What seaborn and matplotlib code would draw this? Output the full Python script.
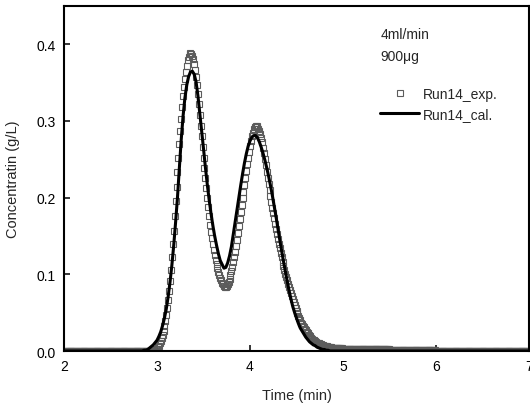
import numpy as np
import pandas as pd
import matplotlib
matplotlib.use("Agg")
import matplotlib.pyplot as plt
import seaborn as sns

# ---------------- data ----------------
# experimental run: sampled every 0.01 min from 2.00 to 7.00
exp_time = np.round(np.linspace(2.0, 7.0, 501), 2)
exp_lead = [0.0] * 90                      # 2.00 - 2.89
exp_core = [                               # 2.90 - 4.89
    0.000, 0.000, 0.000, 0.000, 0.000, 0.000, 0.000, 0.000, 0.001, 0.002,
    0.003, 0.005, 0.007, 0.010, 0.013, 0.017, 0.021, 0.026, 0.032, 0.039,
    0.047, 0.056, 0.066, 0.078, 0.091, 0.106, 0.122, 0.139, 0.157, 0.176,
    0.195, 0.214, 0.233, 0.252, 0.270, 0.287, 0.303, 0.318, 0.332, 0.344,
    0.355, 0.364, 0.372, 0.379, 0.384, 0.387, 0.389, 0.388, 0.385, 0.381,
    0.375, 0.367, 0.358, 0.347, 0.335, 0.322, 0.308, 0.294, 0.280, 0.266,
    0.252, 0.239, 0.226, 0.213, 0.200, 0.188, 0.176, 0.165, 0.155, 0.147,
    0.139, 0.132, 0.125, 0.119, 0.113, 0.108, 0.103, 0.099, 0.095, 0.092,
    0.089, 0.087, 0.085, 0.084, 0.084, 0.085, 0.087, 0.090, 0.094, 0.099,
    0.104, 0.110, 0.116, 0.122, 0.129, 0.137, 0.145, 0.154, 0.163, 0.172,
    0.181, 0.190, 0.199, 0.208, 0.217, 0.226, 0.235, 0.244, 0.252, 0.260,
    0.267, 0.274, 0.280, 0.285, 0.289, 0.292, 0.293, 0.293, 0.292, 0.290,
    0.287, 0.283, 0.278, 0.272, 0.265, 0.258, 0.250, 0.242, 0.234, 0.226,
    0.218, 0.210, 0.202, 0.194, 0.187, 0.180, 0.173, 0.166, 0.159, 0.152,
    0.146, 0.140, 0.134, 0.128, 0.122, 0.116, 0.111, 0.106, 0.101, 0.096,
    0.092, 0.088, 0.084, 0.080, 0.076, 0.072, 0.068, 0.064, 0.060, 0.056,
    0.052, 0.049, 0.046, 0.043, 0.040, 0.037, 0.035, 0.033, 0.031, 0.029,
    0.027, 0.025, 0.023, 0.021, 0.020, 0.018, 0.017, 0.016, 0.015, 0.014,
    0.013, 0.012, 0.011, 0.011, 0.010, 0.009, 0.009, 0.008, 0.008, 0.007,
    0.007, 0.006, 0.006, 0.006, 0.005, 0.005, 0.005, 0.005, 0.004, 0.004,
]
exp_tail = [0.004] * 10 + [0.003] * 20 + [0.002] * 30 + [0.001] * 50 + [0.0] * 101
exp_conc = exp_lead + exp_core + exp_tail

# calculated curve
cal_time = [
    2.00, 2.80, 2.82, 2.84, 2.86, 2.88, 2.90, 2.92, 2.94, 2.96, 2.98,
    3.00, 3.02, 3.04, 3.06, 3.08, 3.10, 3.12, 3.14, 3.16, 3.18,
    3.20, 3.22, 3.24, 3.26, 3.28, 3.30, 3.32, 3.34, 3.36, 3.38,
    3.40, 3.42, 3.44, 3.46, 3.48, 3.50, 3.52, 3.54, 3.56, 3.58,
    3.60, 3.62, 3.64, 3.66, 3.68, 3.70, 3.72, 3.74, 3.76, 3.78,
    3.80, 3.82, 3.84, 3.86, 3.88, 3.90, 3.92, 3.94, 3.96, 3.98,
    4.00, 4.02, 4.04, 4.06, 4.08, 4.10, 4.12, 4.14, 4.16, 4.18,
    4.20, 4.22, 4.24, 4.26, 4.28, 4.30, 4.32, 4.34, 4.36, 4.38,
    4.40, 4.42, 4.44, 4.46, 4.48, 4.50, 4.52, 4.54, 4.56, 4.58,
    4.60, 4.62, 4.64, 4.66, 4.68, 4.70, 4.72, 4.74, 4.76, 4.78,
    4.80, 4.82, 4.84, 4.86, 4.88, 4.90, 7.00,
]
cal_conc = [
    0.000, 0.000, 0.000, 0.000, 0.001, 0.001, 0.002, 0.004, 0.006, 0.008, 0.011,
    0.014, 0.019, 0.025, 0.033, 0.043, 0.055, 0.071, 0.090, 0.112, 0.138,
    0.168, 0.200, 0.238, 0.275, 0.306, 0.330, 0.347, 0.358, 0.364, 0.365,
    0.361, 0.351, 0.333, 0.310, 0.287, 0.264, 0.240, 0.218, 0.198, 0.180,
    0.164, 0.150, 0.138, 0.127, 0.118, 0.113, 0.108, 0.109, 0.115, 0.124,
    0.136, 0.152, 0.168, 0.184, 0.200, 0.216, 0.231, 0.245, 0.257, 0.267,
    0.274, 0.279, 0.281, 0.281, 0.278, 0.273, 0.266, 0.258, 0.249, 0.239,
    0.228, 0.216, 0.203, 0.189, 0.175, 0.160, 0.145, 0.131, 0.117, 0.104,
    0.091, 0.079, 0.068, 0.058, 0.050, 0.043, 0.036, 0.030, 0.026, 0.022,
    0.018, 0.015, 0.012, 0.010, 0.008, 0.007, 0.005, 0.004, 0.003, 0.002,
    0.002, 0.001, 0.001, 0.000, 0.000, 0.000, 0.000,
]

x_ticks = [2, 3, 4, 5, 6, 7]
y_ticks = [0.0, 0.1, 0.2, 0.3, 0.4]
y_tick_labels = ["0.0", "0.1", "0.2", "0.3", "0.4"]
exp_label = "Run14_exp."
cal_label = "Run14_cal."
note_lines = ["4ml/min", "900\u03bcg"]

# ---------------- plot ----------------
sns.set_style("ticks")
plt.rcParams["font.family"] = ["Liberation Sans", "DejaVu Sans"]

fig = plt.figure(figsize=(5.30, 4.06), dpi=100)
ax = fig.add_axes([64 / 530, 1 - 352 / 406, 465 / 530, 345 / 406])

exp_df = pd.DataFrame({"time": exp_time, "conc": exp_conc})
cal_df = pd.DataFrame({"time": cal_time, "conc": cal_conc})

sns.lineplot(data=exp_df, x="time", y="conc", ax=ax, estimator=None, sort=False,
             linestyle="none", marker="s", markersize=4.9,
             markerfacecolor="none", markeredgecolor="#5c5c5c",
             markeredgewidth=0.8, color="#5c5c5c", label=exp_label, zorder=2)
sns.lineplot(data=cal_df, x="time", y="conc", ax=ax, estimator=None, sort=False,
             color="black", linewidth=2.2, label=cal_label, zorder=3)

ax.set_xlim(2, 7)
ax.set_ylim(0, 0.45)
ax.set_xticks(x_ticks)
ax.set_xticklabels([str(v) for v in x_ticks])
ax.set_yticks(y_ticks)
ax.set_yticklabels(y_tick_labels)
ax.tick_params(direction="in", length=4, width=1.1, top=False, right=False,
               labelsize=10, pad=6, colors="black")
for sp in ax.spines.values():
    sp.set_linewidth(1.5)
    sp.set_color("black")

ax.set_xlabel("Time (min)", fontsize=10.5)
ax.set_ylabel("Concentratin (g/L)", fontsize=10.5)
ax.xaxis.set_label_coords(0.5, -0.107)
ax.yaxis.set_label_coords(-0.095, 0.5)

ax.text(0.680, 0.919, note_lines[0], transform=ax.transAxes, fontsize=10,
        va="center", ha="left")
ax.text(0.680, 0.855, note_lines[1], transform=ax.transAxes, fontsize=10,
        va="center", ha="left")

ax.legend(loc="upper left", bbox_to_anchor=(0.680, 0.765), frameon=False,
          fontsize=10, handlelength=2.8, handletextpad=0.25, labelspacing=0.45,
          borderpad=0, borderaxespad=0)

fig.savefig("out.png", dpi=100)
